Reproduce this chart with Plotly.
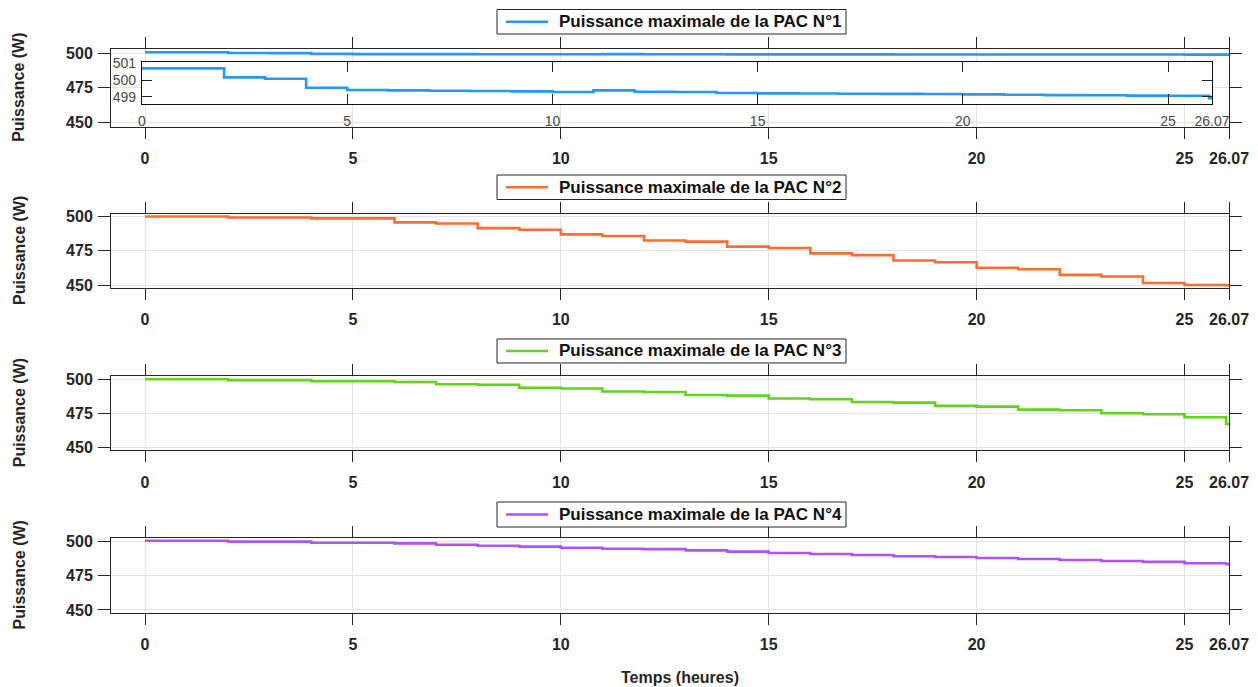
import plotly.graph_objects as go

# ---------------- data ----------------
hours = [0, 1, 2, 3, 4, 5, 6, 7, 8, 9, 10, 11, 12, 13, 14, 15, 16, 17, 18, 19,
         20, 21, 22, 23, 24, 25, 26, 26.07]

pac1 = [500.70, 500.70, 500.16, 500.08, 499.54, 499.40, 499.38, 499.36, 499.34,
        499.32, 499.28, 499.38, 499.30, 499.28, 499.22, 499.20, 499.19, 499.18,
        499.17, 499.16, 499.14, 499.12, 499.10, 499.09, 499.07, 499.06, 498.92, 498.92]
pac2 = [500.2, 500.2, 499.5, 499.5, 498.8, 498.8, 495.9, 495.1, 491.7, 490.5,
        487.1, 485.9, 482.6, 481.8, 478.1, 477.1, 473.2, 471.9, 468.0, 466.7,
        462.6, 461.6, 457.4, 456.2, 451.5, 450.0, 449.8, 449.8]
pac3 = [500.0, 500.0, 499.3, 499.3, 498.5, 498.5, 498.0, 496.3, 495.9, 493.7,
        493.2, 491.0, 490.6, 488.5, 488.0, 485.9, 485.4, 483.4, 482.9, 480.5,
        480.0, 477.8, 477.3, 475.1, 474.4, 472.2, 467.3, 467.3]
pac4 = [500.4, 500.4, 499.8, 499.8, 499.0, 499.0, 498.5, 497.5, 496.8, 496.1,
        495.3, 494.6, 494.3, 493.4, 492.5, 491.5, 490.8, 490.0, 489.1, 488.6,
        487.9, 487.1, 486.4, 485.7, 485.0, 484.0, 483.3, 483.3]

series_names = ["Puissance maximale de la PAC N°1", "Puissance maximale de la PAC N°2",
                "Puissance maximale de la PAC N°3", "Puissance maximale de la PAC N°4"]
series_values = [pac1, pac2, pac3, pac4]
series_colors = ["#1f9bff", "#ff6c30", "#62d41c", "#b152ff"]

x_tickvals = [0, 5, 10, 15, 20, 25, 26.07]
x_ticktext = ["0", "5", "10", "15", "20", "25", "26.07"]
y_tickvals = [450, 475, 500]
inset_y_tickvals = [499, 500, 501]

y_title = "Puissance (W)"
x_title = "Temps (heures)"

# ---------------- style / layout ----------------
FONT = "Liberation Sans, Arial, Helvetica, sans-serif"
DARK = "#262626"
GRID = "#e4e4e4"

W, H = 1258, 687
ML, MR, MT, MB = 111, 29, 49, 74
PW, PH = W - ML - MR, H - MT - MB


def px_x(px):
    return (px - ML) / PW


def px_y(py):
    return (H - MB - py) / PH


panel_domains = [[0.8622, 1.0], [0.5762, 0.7074], [0.2883, 0.4199], [0.0, 0.1332]]
panel_ranges = [[446.8, 503.1], [447.8, 502.0], [448.0, 502.2], [447.8, 502.5]]
# legend boxes (pixel top / bottom)
legend_boxes = [(9.5, 34.0), (175.0, 199.5), (339.0, 363.0), (502.0, 527.0)]
LEG_L, LEG_R, SAMPLE_L, SAMPLE_R, TEXT_L = 497, 846, 506, 548, 557

fig = go.Figure()

for i in range(4):
    n = "" if i == 0 else str(i + 1)
    fig.add_trace(go.Scatter(
        x=hours, y=series_values[i], mode="lines", line_shape="hv",
        line=dict(color=series_colors[i], width=2.6),
        name=series_names[i], xaxis="x" + n, yaxis="y" + n, showlegend=False))

# inset (zoom of PAC 1)
fig.add_trace(go.Scatter(
    x=hours, y=pac1, mode="lines", line_shape="hv",
    line=dict(color=series_colors[0], width=2.6),
    xaxis="x5", yaxis="y5", showlegend=False, name=series_names[0]))

tickfont = dict(family=FONT, size=16, color=DARK, weight="bold")

layout = dict(
    width=W, height=H,
    margin=dict(l=ML, r=MR, t=MT, b=MB, autoexpand=False),
    paper_bgcolor="white", plot_bgcolor="white",
    font=dict(family=FONT, color=DARK),
    showlegend=False,
    annotations=[], shapes=[],
)

for i in range(4):
    n = "" if i == 0 else str(i + 1)
    layout["xaxis" + n] = dict(
        domain=[0, 1], anchor="y" + n, range=[-0.818, 26.07],
        tickmode="array", tickvals=x_tickvals, ticktext=x_ticktext,
        showline=True, linecolor=DARK, linewidth=1, mirror="ticks",
        ticks="outside", ticklen=11, tickwidth=1, tickcolor=DARK,
        showgrid=True, gridcolor=GRID, gridwidth=1, zeroline=False,
        tickfont=tickfont, ticklabelstandoff=6, fixedrange=True)
    layout["yaxis" + n] = dict(
        domain=panel_domains[i], anchor="x" + n, range=panel_ranges[i],
        tickmode="array", tickvals=y_tickvals,
        showline=True, linecolor=DARK, linewidth=1, mirror="ticks",
        ticks="outside", ticklen=12, tickwidth=1, tickcolor=DARK,
        showgrid=True, gridcolor=GRID, gridwidth=1, zeroline=False,
        tickfont=tickfont, ticklabelstandoff=2, fixedrange=True)

    # legend box for this panel
    top, bot = legend_boxes[i]
    yc = px_y((top + bot) / 2)
    layout["shapes"].append(dict(
        type="rect", xref="paper", yref="paper",
        x0=px_x(LEG_L), x1=px_x(LEG_R), y0=px_y(bot), y1=px_y(top),
        line=dict(color=DARK, width=1), fillcolor="white", layer="above"))
    layout["shapes"].append(dict(
        type="line", xref="paper", yref="paper",
        x0=px_x(SAMPLE_L), x1=px_x(SAMPLE_R), y0=yc, y1=yc,
        line=dict(color=series_colors[i], width=2.6), layer="above"))
    layout["annotations"].append(dict(
        text=series_names[i], xref="paper", yref="paper",
        x=px_x(TEXT_L), y=yc, xanchor="left", yanchor="middle", showarrow=False,
        font=dict(family=FONT, size=17, color="#111111", weight="bold")))

    d0, d1 = panel_domains[i]
    layout["annotations"].append(dict(
        text=y_title, xref="paper", yref="paper", x=px_x(19), y=(d0 + d1) / 2,
        xanchor="center", yanchor="middle", textangle=-90, showarrow=False,
        font=dict(family=FONT, size=16, color=DARK, weight="bold")))

layout["annotations"].append(dict(
    text=x_title, xref="paper", yref="paper", x=px_x(680), y=px_y(677),
    xanchor="center", yanchor="middle", showarrow=False,
    font=dict(family=FONT, size=16, color=DARK, weight="bold")))

inset_font = dict(family=FONT, size=14, color="#4a4a4a")
layout["xaxis5"] = dict(
    domain=[0.0277, 0.9848], anchor="y5", range=[0, 26.07],
    tickmode="array", tickvals=x_tickvals, ticktext=x_ticktext,
    showline=True, linecolor="#111111", linewidth=1, mirror="ticks",
    ticks="inside", ticklen=10, tickwidth=1, tickcolor="#222222",
    showgrid=False, zeroline=False, tickfont=inset_font,
    ticklabelstandoff=4, fixedrange=True)
layout["yaxis5"] = dict(
    domain=[0.902, 0.9764], anchor="x5", range=[498.55, 501.06],
    tickmode="array", tickvals=inset_y_tickvals,
    showline=True, linecolor="#111111", linewidth=1, mirror="ticks",
    ticks="inside", ticklen=10, tickwidth=1, tickcolor="#222222",
    showgrid=False, zeroline=False, tickfont=inset_font,
    ticklabelstandoff=2, fixedrange=True)

fig.update_layout(layout)
fig.write_html("out.html", config={"displayModeBar": False},
               post_script="document.body.style.margin='0';")
